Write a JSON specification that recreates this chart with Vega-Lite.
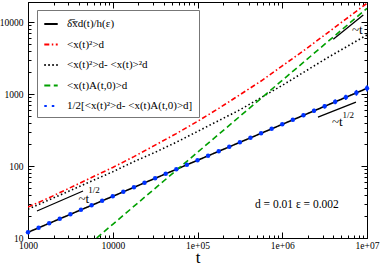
{
  "$schema": "https://vega.github.io/schema/vega-lite/v6.json",
  "width": 339,
  "height": 236,
  "autosize": {"type": "none"},
  "padding": {"left": 28, "top": 2, "right": 13, "bottom": 27},
  "config": {
    "font": "Liberation Serif",
    "view": {"stroke": "black", "strokeWidth": 1},
    "axis": {"domainColor": "black", "tickColor": "black", "labelColor": "black", "grid": false, "labelFont": "Liberation Serif", "labelFontSize": 9.5}
  },
  "datasets": {
    "curves": [
      {"series": "a", "t": 1000, "v": 12.0}, {"series": "a", "t": 10000, "v": 37.9}, {"series": "a", "t": 100000, "v": 120}, {"series": "a", "t": 1000000, "v": 379}, {"series": "a", "t": 10000000, "v": 1200},
      {"series": "b", "t": 1000, "v": 26.9}, {"series": "b", "t": 1778, "v": 36.3}, {"series": "b", "t": 3162, "v": 50.1}, {"series": "b", "t": 5623, "v": 69.2}, {"series": "b", "t": 10000, "v": 95.5}, {"series": "b", "t": 17783, "v": 135}, {"series": "b", "t": 31623, "v": 195}, {"series": "b", "t": 56234, "v": 282}, {"series": "b", "t": 100000, "v": 417}, {"series": "b", "t": 177828, "v": 631}, {"series": "b", "t": 316228, "v": 977}, {"series": "b", "t": 562341, "v": 1514}, {"series": "b", "t": 1000000, "v": 2455}, {"series": "b", "t": 1778279, "v": 3981}, {"series": "b", "t": 3162278, "v": 6607}, {"series": "b", "t": 5623413, "v": 10965}, {"series": "b", "t": 10000000, "v": 18197},
      {"series": "c", "t": 1000, "v": 25.1}, {"series": "c", "t": 1778, "v": 33.9}, {"series": "c", "t": 3162, "v": 45.7}, {"series": "c", "t": 5623, "v": 61.7}, {"series": "c", "t": 10000, "v": 83.2}, {"series": "c", "t": 17783, "v": 115}, {"series": "c", "t": 31623, "v": 155}, {"series": "c", "t": 56234, "v": 214}, {"series": "c", "t": 100000, "v": 302}, {"series": "c", "t": 177828, "v": 427}, {"series": "c", "t": 316228, "v": 603}, {"series": "c", "t": 562341, "v": 891}, {"series": "c", "t": 1000000, "v": 1318}, {"series": "c", "t": 1778279, "v": 1995}, {"series": "c", "t": 3162278, "v": 3020}, {"series": "c", "t": 5623413, "v": 4467}, {"series": "c", "t": 10000000, "v": 6607},
      {"series": "d", "t": 6460, "v": 10}, {"series": "d", "t": 10000, "v": 15.5}, {"series": "d", "t": 100000, "v": 155}, {"series": "d", "t": 1000000, "v": 1549}, {"series": "d", "t": 10000000, "v": 15490}
    ],
    "points": [
      {"t": 1000, "v": 12.0}, {"t": 1334, "v": 13.86}, {"t": 1778, "v": 16.0}, {"t": 2371, "v": 18.48}, {"t": 3162, "v": 21.34}, {"t": 4217, "v": 24.64}, {"t": 5623, "v": 28.46}, {"t": 7499, "v": 32.86},
      {"t": 10000, "v": 37.95}, {"t": 13335, "v": 43.82}, {"t": 17783, "v": 50.6}, {"t": 23714, "v": 58.43}, {"t": 31623, "v": 67.48}, {"t": 42170, "v": 77.92}, {"t": 56234, "v": 89.99}, {"t": 74989, "v": 103.9},
      {"t": 100000, "v": 120.0}, {"t": 133352, "v": 138.6}, {"t": 177828, "v": 160.0}, {"t": 237137, "v": 184.8}, {"t": 316228, "v": 213.4}, {"t": 421697, "v": 246.4}, {"t": 562341, "v": 284.6}, {"t": 749894, "v": 328.6},
      {"t": 1000000, "v": 379.5, "lo": 365, "hi": 394}, {"t": 1333521, "v": 438.2, "lo": 418, "hi": 459}, {"t": 1778279, "v": 506.0, "lo": 478, "hi": 535}, {"t": 2371374, "v": 584.3, "lo": 548, "hi": 622}, {"t": 3162278, "v": 674.8, "lo": 628, "hi": 724}, {"t": 4216965, "v": 779.2, "lo": 720, "hi": 842}, {"t": 5623413, "v": 899.9, "lo": 826, "hi": 980}, {"t": 7498942, "v": 1039, "lo": 946, "hi": 1140}, {"t": 10000000, "v": 1200, "lo": 1085, "hi": 1325}
    ],
    "segments": [
      {"seg": "A", "t": 1277, "v": 23.7}, {"seg": "A", "t": 4457, "v": 45.0},
      {"seg": "B", "t": 4000000, "v": 5750}, {"seg": "B", "t": 9040000, "v": 12500},
      {"seg": "C", "t": 2640000, "v": 479}, {"seg": "C", "t": 7410000, "v": 774}
    ],
    "labels": [
      {"t": 3950, "v": 35, "text": "~t"},
      {"t": 6650000, "v": 7740, "text": "~t"},
      {"t": 3860000, "v": 405, "text": "~t"}
    ],
    "sups": [
      {"t": 5150, "v": 46, "text": "1/2"},
      {"t": 5150000, "v": 510, "text": "1/2"}
    ],
    "note": [
      {"t": 476000, "v": 29, "text": "d = 0.01  ε = 0.002"}
    ]
  },
  "resolve": {"axis": {"x": "independent", "y": "independent"}},
  "layer": [
    {
      "data": {"name": "curves"},
      "mark": {"type": "line", "strokeWidth": 1.6, "clip": true},
      "encoding": {
        "x": {"field": "t", "type": "quantitative",
          "scale": {"type": "log", "domain": [1000, 10000000], "nice": false},
          "axis": {"orient": "bottom", "title": "t", "titleFontSize": 17, "titleFontWeight": "normal", "titleFont": "Liberation Serif", "titleBaseline": "alphabetic", "titleY": 24,
            "values": [1000,2000,3000,4000,5000,6000,7000,8000,9000,10000,20000,30000,40000,50000,60000,70000,80000,90000,100000,200000,300000,400000,500000,600000,700000,800000,900000,1000000,2000000,3000000,4000000,5000000,6000000,7000000,8000000,9000000,10000000],
            "labelExpr": "datum.value==1000?'1000':datum.value==10000?'10000':datum.value==100000?'1e+05':datum.value==1000000?'1e+06':datum.value==10000000?'1e+07':''",
            "tickSize": {"condition": {"test": "indexof([1000,10000,100000,1000000,10000000], datum.value) >= 0", "value": -6}, "value": -3},
            "labelPadding": 8, "labelFlush": false, "labelOverlap": false}},
        "y": {"field": "v", "type": "quantitative",
          "scale": {"type": "log", "domain": [10, 18970], "nice": false},
          "axis": {"orient": "left", "title": null,
            "values": [10,20,30,40,50,60,70,80,90,100,200,300,400,500,600,700,800,900,1000,2000,3000,4000,5000,6000,7000,8000,9000,10000],
            "labelExpr": "indexof([10,100,1000,10000], datum.value) >= 0 ? format(datum.value, 'd') : ''",
            "tickSize": {"condition": {"test": "indexof([10,100,1000,10000], datum.value) >= 0", "value": -6}, "value": -3},
            "labelPadding": 11, "labelOverlap": false, "labelFlush": false}},
        "color": {"field": "series", "type": "nominal",
          "scale": {"domain": ["a", "b", "c", "d", "e"], "range": ["#000000", "#ff0000", "#000000", "#00a000", "#0033ff"]},
          "legend": {"orient": "none", "legendX": 9, "legendY": 8, "title": null, "strokeColor": "#777777", "fillColor": "white", "padding": 6,
            "symbolType": "stroke", "symbolSize": 180, "symbolStrokeWidth": 2, "labelFont": "Liberation Serif", "labelFontSize": 11, "labelOffset": 8, "rowPadding": 7.5, "labelLimit": 300,
            "labelExpr": "datum.value=='a'?'δ̅x̅d(t)/h(ε)':datum.value=='b'?'<x(t)²>d':datum.value=='c'?'<x(t)²>d- <x(t)>²d':datum.value=='d'?'<x(t)A(t,0)>d':'1/2[<x(t)²>d- <x(t)A(t,0)>d]'"}},
        "strokeDash": {"field": "series", "type": "nominal",
          "scale": {"domain": ["a", "b", "c", "d", "e"], "range": [[1, 0], [5, 2.5, 1.5, 2.5], [1.5, 2.5], [6, 3.5], [2.5, 5]]},
          "legend": {"orient": "none", "legendX": 9, "legendY": 8, "title": null}}
      }
    },
    {
      "data": {"name": "points"},
      "mark": {"type": "point", "filled": true, "size": 20, "opacity": 1, "color": "#0033ff"},
      "encoding": {
        "x": {"field": "t", "type": "quantitative",
          "scale": {"type": "log", "domain": [1000, 10000000], "nice": false},
          "axis": {"orient": "top", "title": null, "labels": false,
            "values": [1000,2000,3000,4000,5000,6000,7000,8000,9000,10000,20000,30000,40000,50000,60000,70000,80000,90000,100000,200000,300000,400000,500000,600000,700000,800000,900000,1000000,2000000,3000000,4000000,5000000,6000000,7000000,8000000,9000000,10000000],
            "tickSize": {"condition": {"test": "indexof([1000,10000,100000,1000000,10000000], datum.value) >= 0", "value": -6}, "value": -3}}},
        "y": {"field": "v", "type": "quantitative",
          "scale": {"type": "log", "domain": [10, 18970], "nice": false},
          "axis": {"orient": "right", "title": null, "labels": false,
            "values": [10,20,30,40,50,60,70,80,90,100,200,300,400,500,600,700,800,900,1000,2000,3000,4000,5000,6000,7000,8000,9000,10000],
            "tickSize": {"condition": {"test": "indexof([10,100,1000,10000], datum.value) >= 0", "value": -6}, "value": -3}}}
      }
    },
    {
      "data": {"name": "points"},
      "transform": [{"filter": "isValid(datum.lo)"}],
      "mark": {"type": "rule", "color": "#0033ff", "strokeWidth": 1.5},
      "encoding": {
        "x": {"field": "t", "type": "quantitative", "scale": {"type": "log", "domain": [1000, 10000000], "nice": false}, "axis": null},
        "y": {"field": "lo", "type": "quantitative", "scale": {"type": "log", "domain": [10, 18970], "nice": false}, "axis": null},
        "y2": {"field": "hi"}
      }
    },
    {
      "data": {"name": "segments"},
      "mark": {"type": "line", "color": "black", "strokeWidth": 1.3},
      "encoding": {
        "x": {"field": "t", "type": "quantitative", "scale": {"type": "log", "domain": [1000, 10000000], "nice": false}, "axis": null},
        "y": {"field": "v", "type": "quantitative", "scale": {"type": "log", "domain": [10, 18970], "nice": false}, "axis": null},
        "detail": {"field": "seg"}
      }
    },
    {
      "data": {"name": "labels"},
      "mark": {"type": "text", "align": "left", "baseline": "middle", "fontSize": 13, "font": "Liberation Serif", "color": "black"},
      "encoding": {
        "x": {"field": "t", "type": "quantitative", "scale": {"type": "log", "domain": [1000, 10000000], "nice": false}, "axis": null},
        "y": {"field": "v", "type": "quantitative", "scale": {"type": "log", "domain": [10, 18970], "nice": false}, "axis": null},
        "text": {"field": "text"}
      }
    },
    {
      "data": {"name": "sups"},
      "mark": {"type": "text", "align": "left", "baseline": "middle", "fontSize": 9, "font": "Liberation Serif", "color": "black"},
      "encoding": {
        "x": {"field": "t", "type": "quantitative", "scale": {"type": "log", "domain": [1000, 10000000], "nice": false}, "axis": null},
        "y": {"field": "v", "type": "quantitative", "scale": {"type": "log", "domain": [10, 18970], "nice": false}, "axis": null},
        "text": {"field": "text"}
      }
    },
    {
      "data": {"name": "note"},
      "mark": {"type": "text", "align": "left", "baseline": "middle", "fontSize": 11.5, "font": "Liberation Serif", "color": "black"},
      "encoding": {
        "x": {"field": "t", "type": "quantitative", "scale": {"type": "log", "domain": [1000, 10000000], "nice": false}, "axis": null},
        "y": {"field": "v", "type": "quantitative", "scale": {"type": "log", "domain": [10, 18970], "nice": false}, "axis": null},
        "text": {"field": "text"}
      }
    }
  ]
}
